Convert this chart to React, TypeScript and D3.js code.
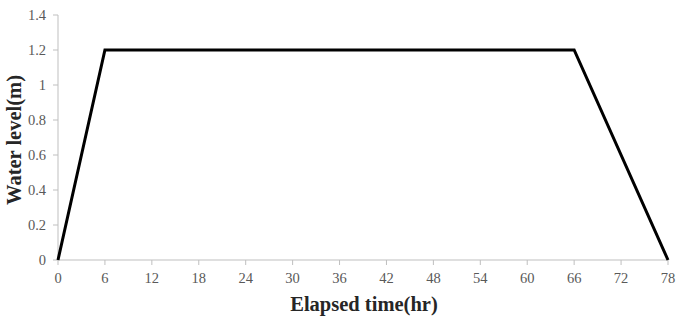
import React from "react";
import * as d3 from "d3";

const timeValues = [0, 6, 66, 78];
const levelValues = [0, 1.2, 1.2, 0];
const xTicks = [0, 6, 12, 18, 24, 30, 36, 42, 48, 54, 60, 66, 72, 78];
const yTicks = [0, 0.2, 0.4, 0.6, 0.8, 1, 1.2, 1.4];

export default function App() {
  const W = 687, H = 316;
  const x = d3.scaleLinear().domain([0, 78]).range([58, 668]);
  const y = d3.scaleLinear().domain([0, 1.4]).range([260, 15]);
  const pts = timeValues.map((t, i) => [t, levelValues[i]] as [number, number]);
  const line = d3.line<[number, number]>().x(d => x(d[0])).y(d => y(d[1]));
  const font = "'Liberation Serif', 'Times New Roman', serif";
  return (
    <svg width={W} height={H} style={{ position: "absolute", left: 0, top: 0 }} fontFamily={font}>
      <rect width={W} height={H} fill="#fff" />
      <line x1={x(0)} x2={x(0)} y1={y(1.4)} y2={y(0)} stroke="#bfbfbf" strokeWidth={1} />
      <line x1={x(0)} x2={x(78)} y1={y(0)} y2={y(0)} stroke="#bfbfbf" strokeWidth={1} />
      {yTicks.map(v => (
        <g key={"y" + v}>
          <line x1={x(0) - 5} x2={x(0)} y1={y(v)} y2={y(v)} stroke="#bfbfbf" />
          <text x={x(0) - 12} y={y(v)} dy="0.35em" textAnchor="end" fontSize={14.5} fill="#595959">{String(v)}</text>
        </g>
      ))}
      {xTicks.map(v => (
        <g key={"x" + v}>
          <line x1={x(v)} x2={x(v)} y1={y(0)} y2={y(0) + 5} stroke="#bfbfbf" />
          <text x={x(v)} y={y(0) + 23} textAnchor="middle" fontSize={14.5} fill="#595959">{String(v)}</text>
        </g>
      ))}
      <path d={line(pts) || ""} fill="none" stroke="#000" strokeWidth={3} strokeLinejoin="miter" />
      <text x={364} y={311} textAnchor="middle" fontSize={20.5} fontWeight="bold" fill="#262626">Elapsed time(hr)</text>
      <text transform={`translate(21,140) rotate(-90)`} textAnchor="middle" fontSize={20.5} fontWeight="bold" fill="#262626">Water level(m)</text>
    </svg>
  );
}
